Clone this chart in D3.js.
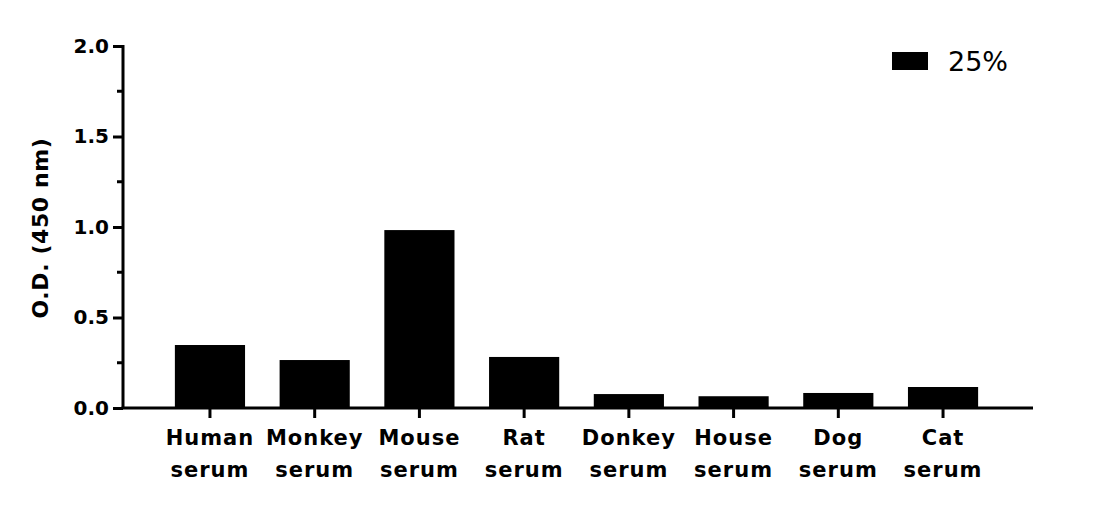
<!DOCTYPE html>
<html lang="en">
  <head>
    <meta charset="UTF-8" />
    <title>O.D. by serum</title>
    <style>
      body { margin: 0; background: #fff; }
      text { font-family: "DejaVu Sans", sans-serif; }
    </style>
  </head>
  <body>
    <div id="viz"></div>
    <script src="https://cdnjs.cloudflare.com/ajax/libs/d3/7.8.5/d3.min.js"></script>
    <script>
      // data
      const categories = ["Human serum", "Monkey serum", "Mouse serum", "Rat serum",
                          "Donkey serum", "House serum", "Dog serum", "Cat serum"];
      const values = [0.348, 0.265, 0.983, 0.282, 0.077, 0.065, 0.083, 0.116];
      const yTicks = [0, 0.5, 1.0, 1.5, 2.0];
      const yMinorTicks = [0.25, 0.75, 1.25, 1.75];
      const seriesName = "25%";

      const width = 1112, height = 507;
      const axisX = 123, axisY = 408, axisEnd = 1033;

      const svg = d3.select("#viz")
        .append("svg")
        .attr("width", width)
        .attr("height", height);

      const x = d3.scaleBand()
        .domain(categories)
        .range([157.6, 995.4])
        .paddingInner(0.33)
        .paddingOuter(0.165);

      const y = d3.scaleLinear()
        .domain([0, 2])
        .range([axisY, 46]);

      // bars
      svg.selectAll(".bar")
        .data(categories)
        .join("rect")
        .attr("class", "bar")
        .attr("x", d => x(d))
        .attr("y", (d, i) => y(values[i]))
        .attr("width", x.bandwidth())
        .attr("height", (d, i) => axisY - y(values[i]))
        .attr("fill", "#000");

      // y axis
      const yAxis = svg.append("g")
        .attr("transform", `translate(${axisX},0)`)
        .call(d3.axisLeft(y).tickValues(yTicks).tickFormat(d3.format(".1f")).tickSize(10).tickPadding(4));
      yAxis.select(".domain").attr("stroke-width", 3).attr("d", `M0,${y(2) - 1}V${axisY}`);
      yAxis.selectAll(".tick line").attr("stroke-width", 3);
      yAxis.selectAll(".tick text")
        .attr("font-size", 20)
        .attr("font-weight", "bold")
        .attr("fill", "#000")
        .attr("font-family", "DejaVu Sans, sans-serif");

      yAxis.selectAll(".minor")
        .data(yMinorTicks)
        .join("line")
        .attr("class", "minor")
        .attr("x1", -6).attr("x2", 0)
        .attr("y1", d => y(d)).attr("y2", d => y(d))
        .attr("stroke", "#000")
        .attr("stroke-width", 3);

      // x axis
      const xAxis = svg.append("g")
        .attr("transform", `translate(0,${axisY})`)
        .call(d3.axisBottom(x).tickSize(10).tickFormat(""));
      xAxis.select(".domain").attr("stroke-width", 3).attr("d", `M${axisX - 1.5},0H${axisEnd}`);
      xAxis.selectAll(".tick line").attr("stroke-width", 3);

      xAxis.selectAll(".tick").each(function (d) {
        const words = d.split(" ");
        const t = d3.select(this).append("text")
          .attr("text-anchor", "middle")
          .attr("font-size", 21)
          .attr("font-weight", "bold")
          .attr("letter-spacing", 1)
          .attr("fill", "#000")
          .attr("font-family", "DejaVu Sans, sans-serif");
        t.append("tspan").attr("x", 0).attr("y", 37).text(words[0]);
        t.append("tspan").attr("x", 0).attr("y", 69).text(words[1]);
      });

      // y label
      svg.append("text")
        .attr("transform", `translate(48,228) rotate(-90)`)
        .attr("text-anchor", "middle")
        .attr("font-size", 22)
        .attr("font-weight", "bold")
        .attr("letter-spacing", 0.6)
        .text("O.D. (450 nm)");

      // legend
      svg.append("rect")
        .attr("x", 892).attr("y", 52)
        .attr("width", 36).attr("height", 18)
        .attr("fill", "#000");
      svg.append("text")
        .attr("x", 948).attr("y", 70.5)
        .attr("font-size", 27)
        .attr("font-family", "Liberation Sans, Arial, sans-serif")
        .text(seriesName);
    </script>
  </body>
</html>
